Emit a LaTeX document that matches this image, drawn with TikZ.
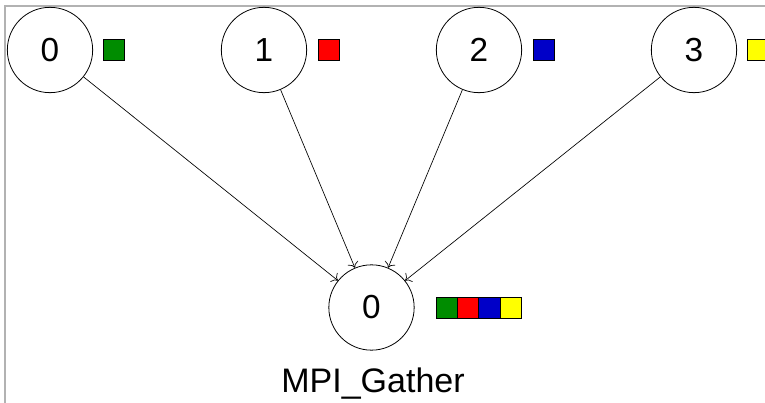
\documentclass[tikz,border=0pt]{standalone}
\usepackage{fontspec}
\setmainfont{Liberation Sans}
\usetikzlibrary{positioning,arrows.meta}
\definecolor{cgreen}{RGB}{0,140,0}
\definecolor{cred}{RGB}{255,0,0}
\definecolor{cblue}{RGB}{0,0,200}
\definecolor{cyellow}{RGB}{255,255,0}
\tikzset{%
  rank/.style={draw,shape=circle,minimum size=64pt,inner sep=0,line width=0.6pt,font=\fontsize{25}{30}\selectfont},
  chunk/.style={draw,shape=rectangle,minimum size=16pt,inner sep=0,outer sep=0,line width=0.6pt},
  frame/.style={draw=black!30,line width=0.8pt},
  send/.style={-{To[scale=1.5]},line width=0.5pt}
}
\begin{document}
\begin{tikzpicture}[x=0.75pt,y=-0.75pt]
  \useasboundingbox (0,0) rectangle (765,403);
  \draw[frame] (5,403) -- (5,6) -- (765,6);
  \path
    (50,50) node[rank] (p0) {0} (114,50) node[chunk,fill=cgreen] (s0) {}
    (264,50) node[rank] (p1) {1} (329,50) node[chunk,fill=cred] (s1) {}
    (479,50) node[rank] (p2) {2} (544,50) node[chunk,fill=cblue] (s2) {}
    (694,50) node[rank] (p3) {3} (758,50) node[chunk,fill=cyellow] (s3) {};
  \node[rank] (root) at (371.5,307.5) {0};
  \node[chunk,fill=cgreen,anchor=west] (g0) at (436,308) {};
  \node[chunk,fill=cred,right=0pt of g0] (g1) {};
  \node[chunk,fill=cblue,right=0pt of g1] (g2) {};
  \node[chunk,fill=cyellow,right=0pt of g2] (g3) {};
  \node[font=\fontsize{25.5}{30}\selectfont] (title) at (373,384) {MPI\_Gather};
  \draw[send] (p0) -- (root);
  \draw[send] (p1) -- (root);
  \draw[send] (p2) -- (root);
  \draw[send] (p3) -- (root);
\end{tikzpicture}
\end{document}
